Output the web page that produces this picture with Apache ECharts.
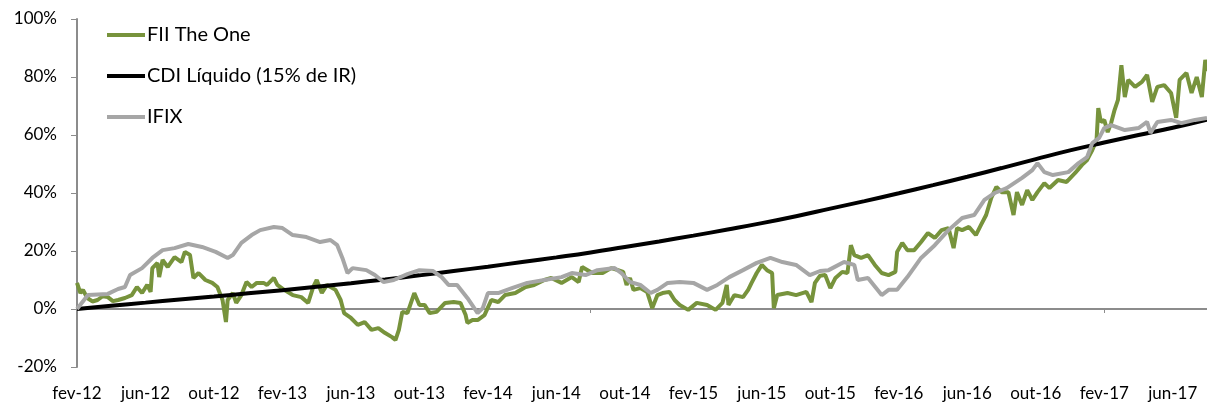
<!DOCTYPE html>
<html>
<head>
<meta charset="utf-8">
<script src="https://cdn.jsdelivr.net/npm/echarts@6/dist/echarts.min.js"></script>
<style>
html,body{margin:0;padding:0;background:#fff;}
#chart{width:1207px;height:405px;}
</style>
</head>
<body>
<div id="chart"></div>
<script>
// x = months since fev-12
const tickLabels = ['fev-12','jun-12','out-12','fev-13','jun-13','out-13','fev-14','jun-14','out-14','fev-15','jun-15','out-15','fev-16','jun-16','out-16','fev-17','jun-17'];
const yTicks = [-20, 0, 20, 40, 60, 80, 100];
const seriesNames = ['FII The One', 'CDI Líquido (15% de IR)', 'IFIX'];

const fiiMonths = [0,0.2,0.35,0.6,0.9,1.2,1.5,1.8,2.1,2.4,2.8,3.2,3.5,3.8,4.1,4.3,4.4,4.7,4.8,5.0,5.3,5.7,6.1,6.3,6.6,6.8,7.1,7.5,7.9,8.2,8.5,8.7,8.8,9.1,9.3,9.6,9.9,10.2,10.5,10.9,11.1,11.5,11.7,12.1,12.6,13.1,13.5,13.8,14.0,14.3,14.6,15.1,15.4,15.6,16.0,16.4,16.8,17.2,17.6,18.0,18.4,18.6,18.8,19.0,19.3,19.7,20.0,20.3,20.6,21.0,21.5,22.0,22.4,22.7,22.8,23.1,23.4,23.8,24.2,24.6,25.0,25.6,26.2,26.7,27.3,27.7,28.3,28.9,29.3,29.5,30.1,30.7,31.2,31.6,31.9,32.1,32.3,32.5,32.9,33.3,33.6,33.9,34.2,34.6,34.9,35.2,35.7,36.2,36.8,37.3,37.7,37.95,38.05,38.4,38.9,39.2,39.4,39.7,40.0,40.3,40.6,40.7,40.9,41.5,42.0,42.6,42.9,43.1,43.4,43.7,44.0,44.3,44.7,45.0,45.2,45.4,45.8,46.2,46.6,47.0,47.4,47.8,47.9,48.2,48.5,48.9,49.3,49.7,50.1,50.5,50.9,51.2,51.4,51.7,52.1,52.5,52.8,53.1,53.4,53.7,54.0,54.4,54.5,54.7,54.9,55.2,55.5,55.8,56.1,56.5,56.8,57.3,57.8,58.3,58.7,59.0,59.3,59.55,59.65,59.8,60.0,60.2,60.4,60.6,60.8,61.0,61.2,61.4,61.8,62.2,62.5,62.8,63.1,63.5,63.9,64.2,64.4,64.8,65.1,65.4,65.7,65.9,66];
const fiiValues = [9,5.5,6.6,3.8,2.6,3.1,4.4,4.1,2.7,3.1,3.8,4.8,7.6,5.5,8.3,5.9,14.1,15.9,11,16.9,14.5,17.9,16.2,19.7,18.6,10.7,12.4,10,9,7.6,3.1,-4.5,3.1,5.5,2.1,4.8,9.3,7.6,9,9,8.3,10.7,8.3,6.6,4.8,4.1,2.1,7.6,10,5.5,8.3,6.6,3.1,-1.4,-3.1,-5.5,-4.5,-7.2,-6.6,-8.3,-9.7,-10.7,-7.2,-1,-1.4,5.5,1.4,1.4,-1.4,-1,2.1,2.4,2.1,-2.1,-4.8,-3.8,-3.8,-2.1,3.1,2.4,4.8,5.5,7.6,8.3,10,10.7,9,11,9.3,14.5,12.4,12.4,14.1,13.4,12.8,8.3,10.7,6.6,7.2,5.9,0.3,4.8,5.5,5.9,3.1,1.4,-0.3,2.1,1.4,-0.3,2.1,8.3,1.4,4.8,4.1,6.6,9,12.4,15.2,13.4,12.4,0.3,4.8,5.5,4.8,5.9,2.4,9,11.5,11.7,7.2,10.7,12.8,12.4,22,18.6,17.6,18.6,15.2,12.4,11.7,12.8,19.7,22.8,20.3,20.3,23.1,26.2,24.5,27.2,27.9,21,27.9,27.2,28.3,25.5,29,32.4,38.3,42.1,40.3,40.3,40,32.4,40.3,35.9,41,37.6,40.3,43.4,41.7,44.5,43.8,46.9,49.7,51.4,54.8,58.3,69.3,64.5,65.2,61,64.1,68.6,72.1,84.1,73.1,79,76.6,78.3,80.7,71.4,76.6,77.2,74.5,65.9,79,81.4,74.5,80,73.1,85.9,82];

const cdiMonths = [0,2,4,6,8,10,12,14,16,18,20,22,24,26,28,30,32,34,36,38,40,42,44,46,48,50,52,54,56,58,60,62,64,66];
const cdiValues = [0,1.1,2.2,3.3,4.3,5.4,6.5,7.7,8.9,10.2,11.6,13.1,14.6,16.2,17.8,19.5,21.4,23.3,25.3,27.4,29.6,32.0,34.6,37.2,39.9,42.7,45.6,48.6,51.7,54.7,57.4,60.0,62.5,65.3];

const ifixMonths = [0,0.64,1.8,2.4,2.8,3.1,3.8,4.4,5.0,5.7,6.5,7.3,8.1,8.8,9.1,9.6,10.2,10.7,11.5,12.0,12.6,13.4,14.2,14.8,15.2,15.5,15.8,16.1,16.9,17.4,17.9,18.5,19.3,20.0,20.8,21.3,21.7,22.2,22.8,23.4,23.7,24.0,24.6,25.4,26.3,27.3,28.3,28.9,29.7,30.4,31.4,31.8,32.3,32.9,33.5,33.9,34.5,35.2,36.0,36.8,37.4,38.1,38.9,39.7,40.5,41.2,42.0,42.8,43.4,43.9,44.8,45.4,45.6,46.2,47.0,47.4,47.9,48.5,49.3,50.1,50.9,51.7,52.4,53.0,53.6,54.3,55.2,55.8,56.1,56.5,57.0,57.9,58.5,59.0,59.3,59.7,60.0,60.4,61.2,62.0,62.5,62.7,63.1,63.9,64.5,65.3,66];
const ifixValues = [0,4.8,5.2,6.9,7.6,11.7,14.1,17.6,20.3,21,22.4,21.4,19.7,17.6,18.6,22.8,25.5,27.2,28.3,27.9,25.5,24.8,23.1,23.8,22,17.6,12.4,14.1,13.4,11.7,9.3,10,12,13.4,13.1,11,8.3,8.3,3.8,-1.4,0.3,5.5,5.5,7.2,9,10,11,12.4,11.7,13.4,14.1,12.4,9.3,8.3,5.5,6.6,9,9.3,9,6.6,8.3,11,13.4,15.9,17.6,16.2,15.2,11.7,13.1,13.4,16.2,15.2,10,10.7,4.8,6.6,6.6,11,17.6,22,27.2,31.4,32.4,37.6,40,41.7,45.2,47.9,50.3,47.2,46.2,47.2,50.3,52.4,57.2,59,62.4,63.4,61.7,62.4,64.5,60.7,64.5,65.2,64.1,65.2,65.9];

const colors = ['#77933C', '#000000', '#A6A6A6'];
const pairs = (xs, ys) => xs.map((x, i) => [x, ys[i]]);

const chart = echarts.init(document.getElementById('chart'), null, {renderer: 'canvas'});
const FONT = 'Lato';
chart.setOption({
  animation: false,
  color: colors,
  grid: {left: 77, right: 0, top: 19, bottom: 38, containLabel: false},
  legend: {
    orient: 'vertical', left: 102, top: 20, itemGap: 21,
    icon: 'rect', itemWidth: 38, itemHeight: 4,
    textStyle: {fontFamily: FONT, fontSize: 20, color: '#000', padding: [0,0,0,-3]},
    data: seriesNames
  },
  xAxis: [{
    type: 'value', min: 0, max: 66, interval: 4,
    axisLine: {show: false, onZero: false},
    axisTick: {show: false},
    splitLine: {show: false},
    axisLabel: {
      fontFamily: FONT, fontSize: 17, color: '#000', margin: 18, showMaxLabel: false,
      formatter: v => (v % 4 === 0 && tickLabels[v / 4]) ? tickLabels[v / 4] : ''
    }
  }, {
    type: 'value', min: 0, max: 66, interval: 30, position: 'bottom',
    axisLine: {show: true, onZero: true, lineStyle: {color: '#8C8C8C', width: 2}},
    axisTick: {show: true, length: 4, lineStyle: {color: '#8C8C8C', width: 1}},
    axisLabel: {show: false},
    splitLine: {show: false}
  }],
  yAxis: {
    type: 'value', min: -20, max: 100, interval: 20,
    axisLine: {show: true, lineStyle: {color: '#8C8C8C', width: 2}},
    axisTick: {show: true, length: 6, lineStyle: {color: '#8C8C8C', width: 1}},
    splitLine: {show: false},
    axisLabel: {fontFamily: FONT, fontSize: 17, color: '#000', margin: 20,
      formatter: v => yTicks.includes(v) ? v + '%' : ''}
  },
  series: [
    {name: seriesNames[0], type: 'line', data: pairs(fiiMonths, fiiValues), showSymbol: false,
     lineStyle: {width: 4, color: colors[0]}, z: 2},
    {name: seriesNames[1], type: 'line', data: pairs(cdiMonths, cdiValues), showSymbol: false, smooth: true,
     lineStyle: {width: 4, color: colors[1]}, z: 3},
    {name: seriesNames[2], type: 'line', data: pairs(ifixMonths, ifixValues), showSymbol: false,
     lineStyle: {width: 4, color: colors[2]}, z: 4}
  ]
});
</script>
</body>
</html>
